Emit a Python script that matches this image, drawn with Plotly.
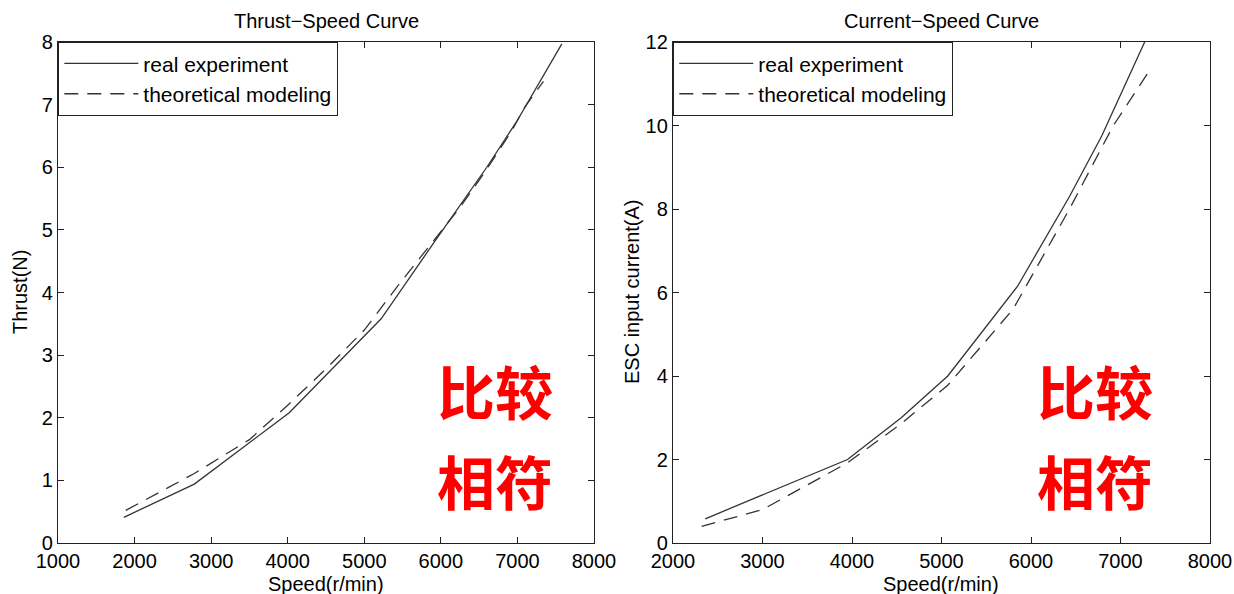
import plotly.graph_objects as go

# Thrust-Speed data
thrust_real_x = [1860, 2780, 4020, 5220, 5900, 6600, 7000, 7580]
thrust_real_y = [0.41, 0.94, 2.08, 3.58, 4.78, 6.0, 6.75, 7.97]
thrust_theo_x = [1885, 2780, 3500, 4000, 4500, 5000, 5440, 5840, 6250, 6590, 6930, 7100, 7340]
thrust_theo_y = [0.52, 1.11, 1.65, 2.2, 2.78, 3.4, 4.11, 4.72, 5.36, 5.95, 6.59, 6.97, 7.37]

# Current-Speed data
current_real_x = [2360, 3950, 4550, 5070, 5850, 6430, 6790, 7270]
current_real_y = [0.58, 2.0, 3.0, 4.0, 6.15, 8.3, 9.75, 12.0]
current_theo_x = [2320, 3000, 3950, 4550, 5070, 5800, 6430, 6920, 7300]
current_theo_y = [0.4, 0.8, 1.92, 2.86, 3.78, 5.6, 8.0, 10.0, 11.24]

titles = ["Thrust\u2212Speed Curve", "Current\u2212Speed Curve"]
ylabels = ["Thrust(N)", "ESC input current(A)"]
xlabel = "Speed(r/min)"
legend_names = ["real experiment", "theoretical modeling"]
note_lines = ["比较", "相符"]

FONT = "Liberation Sans, Arial, sans-serif"
LC = "#333333"
DASH = "14px,9px"

fig = go.Figure()
fig.add_trace(go.Scatter(x=thrust_real_x, y=thrust_real_y, mode="lines", name=legend_names[0],
                         line=dict(color=LC, width=1.3), xaxis="x", yaxis="y", legend="legend"))
fig.add_trace(go.Scatter(x=thrust_theo_x, y=thrust_theo_y, mode="lines", name=legend_names[1],
                         line=dict(color=LC, width=1.3, dash=DASH), xaxis="x", yaxis="y", legend="legend"))
fig.add_trace(go.Scatter(x=current_real_x, y=current_real_y, mode="lines", name=legend_names[0],
                         line=dict(color=LC, width=1.3), xaxis="x2", yaxis="y2", legend="legend2"))
fig.add_trace(go.Scatter(x=current_theo_x, y=current_theo_y, mode="lines", name=legend_names[1],
                         line=dict(color=LC, width=1.3, dash=DASH), xaxis="x2", yaxis="y2", legend="legend2"))

W, H = 1234, 594
dx1 = [58 / W, 594 / W]
dx2 = [673 / W, 1210 / W]
dy = [1 - 543 / H, 1 - 42 / H]

axis_common = dict(showline=True, linecolor="#222222", linewidth=1.3, mirror="ticks",
                   ticks="inside", ticklen=6, tickcolor="#222222", tickwidth=1,
                   showgrid=False, zeroline=False, automargin=False,
                   tickfont=dict(family=FONT, size=20, color="black"))

legend_common = dict(bordercolor="#222222", borderwidth=1.3, bgcolor="white",
                     font=dict(family=FONT, size=21, color="black"),
                     xanchor="left", yanchor="top", itemwidth=74, tracegroupgap=0)

fig.update_layout(
    template="none",
    width=W, height=H,
    margin=dict(l=0, r=0, t=0, b=0, pad=0),
    plot_bgcolor="white", paper_bgcolor="white",
    xaxis=dict(domain=dx1, range=[1000, 8000], dtick=1000, anchor="y", **axis_common),
    yaxis=dict(domain=dy, range=[0, 8], dtick=1, anchor="x", **axis_common),
    xaxis2=dict(domain=dx2, range=[2000, 8000], dtick=1000, anchor="y2", **axis_common),
    yaxis2=dict(domain=dy, range=[0, 12], dtick=2, anchor="x2", **axis_common),
    legend=dict(x=dx1[0], y=dy[1], **legend_common),
    legend2=dict(x=dx2[0], y=dy[1], **legend_common),
    showlegend=True,
)

ann = []
ylab_x = [20, 632]
for i, (d, t, yl) in enumerate(zip([dx1, dx2], titles, ylabels)):
    cx = (d[0] + d[1]) / 2
    ann.append(dict(text=t, x=cx, y=1 - 21 / H, xref="paper", yref="paper", showarrow=False,
                    font=dict(family=FONT, size=20, color="black"), xanchor="center", yanchor="middle"))
    ann.append(dict(text=xlabel, x=cx, y=1 - 584 / H, xref="paper", yref="paper", showarrow=False,
                    font=dict(family=FONT, size=20, color="black"), xanchor="center", yanchor="middle"))
    ann.append(dict(text=yl, x=ylab_x[i] / W, y=1 - 292 / H,
                    xref="paper", yref="paper", showarrow=False, textangle=-90,
                    font=dict(family=FONT, size=20, color="black"), xanchor="center", yanchor="middle"))
for cxp in [495, 1095]:
    for j, line in enumerate(note_lines):
        ann.append(dict(text="<b>" + line + "</b>", x=cxp / W, y=1 - (390 + j * 90) / H,
                        xref="paper", yref="paper", showarrow=False,
                        font=dict(family="Noto Sans CJK SC", size=58, color="#ff0000"),
                        xanchor="center", yanchor="middle"))
fig.update_layout(annotations=ann)

fig.write_html("out.html", config={"displayModeBar": False},
               post_script="document.body.style.margin='0';document.body.style.overflow='hidden';")
